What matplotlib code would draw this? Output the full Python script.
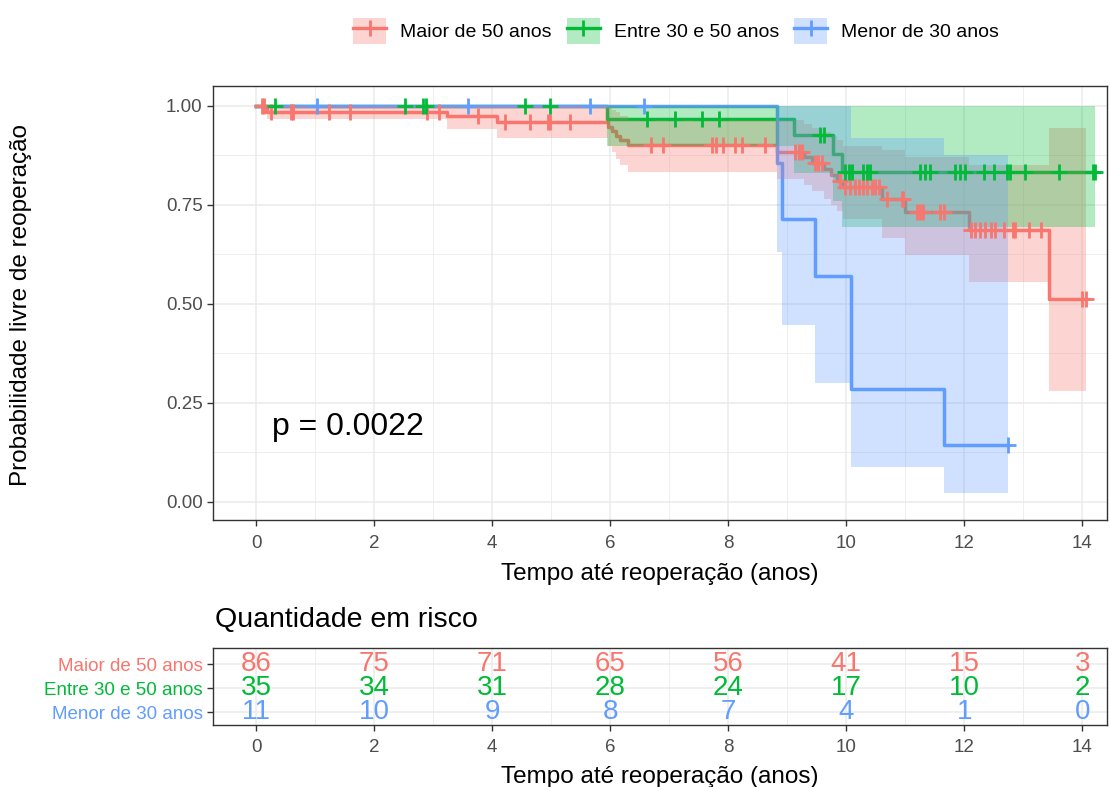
import numpy as np
import matplotlib

matplotlib.use("Agg")
import matplotlib.pyplot as plt  # noqa: E402
from matplotlib.lines import Line2D  # noqa: E402
from matplotlib.patches import Patch  # noqa: E402

plt.rcParams["font.family"] = ["Liberation Sans", "DejaVu Sans"]

# Kaplan-Meier steps per age group: step start times, survival, CI bounds, censor times
groups = ["Maior de 50 anos", "Entre 30 e 50 anos", "Menor de 30 anos"]
colors = ["#F8766D", "#00BA38", "#619CFF"]

red_t = [0, 0.18, 3.24, 4.08, 5.97, 6.03, 6.10, 6.17, 6.30, 8.82, 9.28, 9.42, 9.62,
         9.75, 9.85, 9.95, 10.60, 11.00, 12.08, 13.43]
red_s = [1.0, 0.986, 0.975, 0.960, 0.948, 0.936, 0.925, 0.913, 0.901, 0.885, 0.870,
         0.855, 0.840, 0.825, 0.811, 0.796, 0.765, 0.733, 0.687, 0.513]
red_lo = [1.0, 0.966, 0.942, 0.919, 0.900, 0.885, 0.865, 0.850, 0.834, 0.815, 0.800,
          0.785, 0.765, 0.750, 0.735, 0.715, 0.666, 0.623, 0.556, 0.280]
red_hi = [1.0, 1.0, 1.0, 1.0, 1.0, 0.990, 0.985, 0.975, 0.965, 0.965, 0.955, 0.945,
          0.935, 0.925, 0.915, 0.900, 0.889, 0.870, 0.851, 0.944]
red_cens = [0.10, 0.13, 0.25, 0.60, 0.63, 1.23, 1.59, 2.89, 3.10, 3.76, 4.22, 4.64,
            4.95, 4.98, 5.32, 6.70, 6.90, 7.72, 7.80, 7.91, 8.12, 8.23, 8.62, 9.14,
            9.20, 9.25, 9.47, 9.53, 9.59, 9.90, 9.98, 10.07, 10.15, 10.21, 10.29,
            10.35, 10.43, 10.49, 10.56, 10.69, 10.94, 10.97, 11.20, 11.25, 11.31,
            11.59, 11.65, 12.12, 12.19, 12.27, 12.36, 12.45, 12.53, 12.67, 12.83,
            12.86, 13.09, 13.31, 14.00, 14.06]

green_t = [0, 5.95, 9.11, 9.78, 9.93]
green_s = [1.0, 0.967, 0.927, 0.880, 0.833]
green_lo = [1.0, 0.900, 0.830, 0.760, 0.695]
green_hi = [1.0, 1.0, 1.0, 1.0, 1.0]
green_cens = [0.32, 2.53, 2.83, 2.88, 4.56, 4.98, 6.62, 7.10, 7.55, 7.84, 9.56, 9.62,
              9.98, 10.04, 10.10, 10.29, 10.35, 10.40, 11.25, 11.34, 11.42, 11.85,
              11.93, 12.02, 12.33, 12.50, 12.72, 12.78, 13.03, 13.60, 14.19, 14.22]

blue_t = [0, 8.82, 8.91, 9.48, 10.09, 11.65]
blue_s = [1.0, 0.857, 0.714, 0.571, 0.286, 0.143]
blue_lo = [1.0, 0.632, 0.447, 0.300, 0.089, 0.023]
blue_hi = [1.0, 1.0, 1.0, 1.0, 0.918, 0.876]
blue_cens = [1.03, 3.59, 5.66, 6.57, 12.75]

# numbers at risk
risk_times = [0, 2, 4, 6, 8, 10, 12, 14]
risk_maior = [86, 75, 71, 65, 56, 41, 15, 3]
risk_entre = [35, 34, 31, 28, 24, 17, 10, 2]
risk_menor = [11, 10, 9, 8, 7, 4, 1, 0]

pval_text = "p = 0.0022"
xlab = "Tempo até reoperação (anos)"
ylab = "Probabilidade livre de reoperação"

XLIM = (-0.729, 14.42)
GRID = "#EBEBEB"
FRAME = "#333333"
TICKC = "#4D4D4D"


def draw_group(ax, t, s, lo, hi, cens, color):
    t, s, lo, hi, cens = map(np.asarray, (t, s, lo, hi, cens))
    end = max(cens.max(), t[-1])
    tt = np.append(t, end)
    ax.step(tt, np.append(s, s[-1]), where="post", color=color, lw=2.5, zorder=2)
    ax.fill_between(tt, np.append(lo, lo[-1]), np.append(hi, hi[-1]), step="post",
                    color=color, alpha=0.3, lw=0, zorder=3)
    idx = np.searchsorted(t, cens, side="right") - 1
    ax.plot(cens, s[idx], ls="none", marker="+", ms=12, mew=2, color=color, zorder=4)


def style_axes(ax):
    for sp in ax.spines.values():
        sp.set_color(FRAME)
        sp.set_linewidth(1.0)
    ax.tick_params(length=4, width=1, color=FRAME, labelcolor=TICKC, labelsize=13.5)
    ax.set_axisbelow(True)


fig = plt.figure(figsize=(11.1, 7.87), dpi=100)
W, H = 1110, 787

# survival panel
ax = fig.add_axes([213 / W, 1 - 520 / H, 894 / W, 434 / H])
draw_group(ax, red_t, red_s, red_lo, red_hi, red_cens, colors[0])
draw_group(ax, green_t, green_s, green_lo, green_hi, green_cens, colors[1])
draw_group(ax, blue_t, blue_s, blue_lo, blue_hi, blue_cens, colors[2])
ax.set_xlim(*XLIM)
ax.set_ylim(-0.0455, 1.0505)
ax.set_xticks(risk_times)
ax.set_xticks(np.arange(1, 15, 2), minor=True)
ax.set_yticks([0, 0.25, 0.5, 0.75, 1.0])
ax.set_yticklabels(["0.00", "0.25", "0.50", "0.75", "1.00"])
ax.set_yticks([0.125, 0.375, 0.625, 0.875], minor=True)
ax.tick_params(which="minor", length=0)
ax.grid(True, which="major", color=GRID, lw=1.1)
ax.grid(True, which="minor", color=GRID, lw=0.6)
style_axes(ax)
ax.tick_params(axis="x", pad=7)
ax.set_xlabel(xlab, fontsize=17.5, labelpad=8)
ax.text(0.27, 0.19, pval_text, fontsize=23, va="center", ha="left")

fig.text(21 / W, 1 - 305 / H, ylab, rotation=90, fontsize=17.5, ha="center", va="center")

# legend
handles = [(Patch(facecolor=c, alpha=0.3, lw=0),
            Line2D([], [], color=c, lw=2.4, marker="+", ms=12, mew=2)) for c in colors]
fig.legend(handles, groups, loc="center", bbox_to_anchor=(676 / W, 1 - 31 / H), ncol=3,
           frameon=False, fontsize=14, handlelength=1.7, handleheight=1.7,
           handletextpad=0.7, columnspacing=0.8)

# risk table
ax2 = fig.add_axes([213 / W, 1 - 725 / H, 894 / W, 77 / H])
rows = [risk_maior, risk_entre, risk_menor]
ypos = [3, 2, 1]
for vals, y, c in zip(rows, ypos, colors):
    for x, v in zip(risk_times, vals):
        ax2.text(x, y, str(v), color=c, fontsize=20, ha="center", va="center")
ax2.set_xlim(*XLIM)
ax2.set_ylim(0.46, 3.67)
ax2.set_xticks(risk_times)
ax2.set_xticks(np.arange(1, 15, 2), minor=True)
ax2.set_yticks(ypos)
ax2.set_yticklabels(groups)
ax2.tick_params(which="minor", length=0)
ax2.grid(True, which="major", color=GRID, lw=1.1)
ax2.grid(True, which="minor", axis="x", color=GRID, lw=0.6)
style_axes(ax2)
ax2.tick_params(axis="x", pad=6)
for lab, c in zip(ax2.get_yticklabels(), colors):
    lab.set_color(c)
ax2.set_xlabel(xlab, fontsize=17.5, labelpad=7)
fig.text(215 / W, 1 - 620 / H, "Quantidade em risco", fontsize=20.5, ha="left", va="center")

fig.savefig("out.png", dpi=100)
